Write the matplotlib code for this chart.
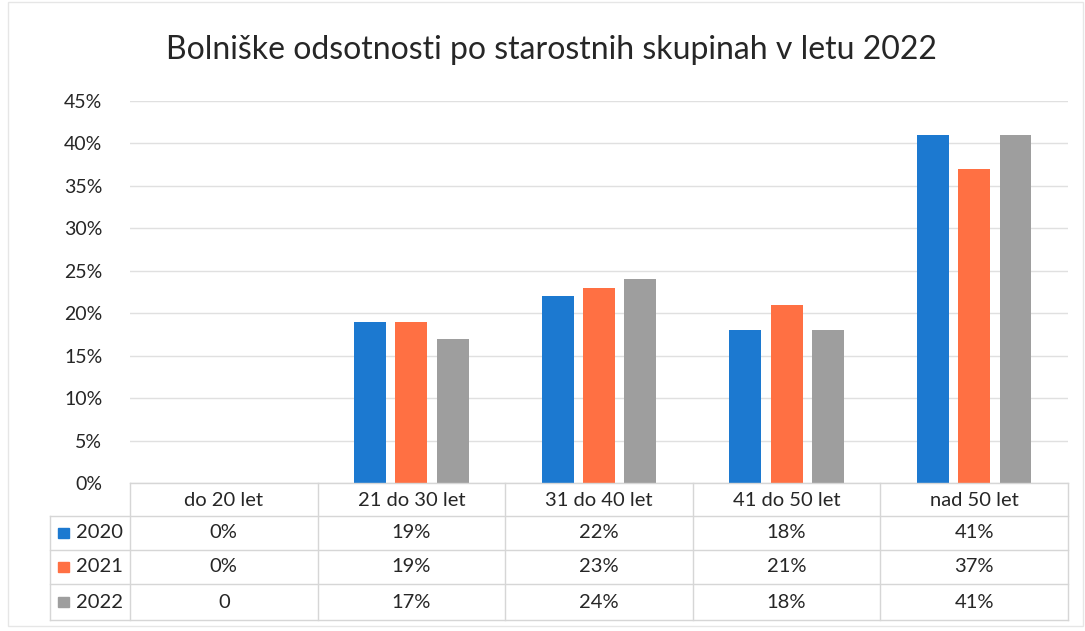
import matplotlib.pyplot as plt
from matplotlib.lines import Line2D
from matplotlib.patches import Rectangle
import numpy as np

# podatki
categories = ['do 20 let', '21 do 30 let', '31 do 40 let', '41 do 50 let', 'nad 50 let']
years = ['2020', '2021', '2022']
v2020 = [0, 19, 22, 18, 41]
v2021 = [0, 19, 23, 21, 37]
v2022 = [0, 17, 24, 18, 41]
yticks = [0, 5, 10, 15, 20, 25, 30, 35, 40, 45]

colors = ['#1C79D0', '#FF7043', '#9E9E9E']
series = [v2020, v2021, v2022]
txt_c = '#262626'

plt.rcParams['font.family'] = ['Lato', 'DejaVu Sans']
W, H = 1085, 631
fig = plt.figure(figsize=(W / 100, H / 100), dpi=100)

def fx(x):
    return x / W

def fy(y):
    return 1 - y / H

ax_left, ax_right, ax_top, ax_bot = 130, 1068, 101, 483
ax = fig.add_axes([fx(ax_left), fy(ax_bot), fx(ax_right - ax_left), fy(ax_top) - fy(ax_bot)])

x = np.arange(len(categories))
bw = 0.17
offsets = [-0.22, 0, 0.22]
for vals, off, c in zip(series, offsets, colors):
    ax.bar(x + off, vals, width=bw, color=c, zorder=3)

ax.set_xlim(-0.5, len(categories) - 0.5)
ax.set_ylim(0, 45)
ax.set_yticks(yticks)
ax.set_yticklabels([f'{t}%' for t in yticks], fontsize=14, color=txt_c)
ax.tick_params(axis='y', length=0, pad=20)
ax.set_xticks([])
ax.grid(axis='y', color='#e0e0e0', linewidth=1, zorder=0)
for s in ax.spines.values():
    s.set_visible(False)

fig.text(0.508, fy(50), 'Bolniške odsotnosti po starostnih skupinah v letu 2022',
         ha='center', va='center', fontsize=23, color=txt_c)

# tabela s podatki
line_c = '#d6d6d6'
col_w = (ax_right - ax_left) / len(categories)
col_x = [ax_left + i * col_w for i in range(len(categories) + 1)]
row_y = [483, 516, 550, 584, 620]
lab_left = 50

def hline(y, x0, x1):
    fig.add_artist(Line2D([fx(x0), fx(x1)], [fy(y), fy(y)], color=line_c, lw=1))

def vline(x0, y0, y1):
    fig.add_artist(Line2D([fx(x0), fx(x0)], [fy(y0), fy(y1)], color=line_c, lw=1))

hline(row_y[0], ax_left, ax_right)
for y in row_y[1:]:
    hline(y, lab_left, ax_right)
for cx in col_x:
    vline(cx, row_y[0], row_y[-1])
vline(lab_left, row_y[1], row_y[-1])

for i, cat in enumerate(categories):
    cx = (col_x[i] + col_x[i + 1]) / 2
    fig.text(fx(cx), fy((row_y[0] + row_y[1]) / 2 + 1), cat, ha='center', va='center',
             fontsize=14.5, color=txt_c)

for r, (yr, vals, c) in enumerate(zip(years, series, colors)):
    yc = (row_y[r + 1] + row_y[r + 2]) / 2
    fig.add_artist(Rectangle((fx(58), fy(yc + 5)), fx(11), fy(yc - 5) - fy(yc + 5),
                             color=c, transform=fig.transFigure))
    fig.text(fx(76), fy(yc), yr, ha='left', va='center', fontsize=14.5, color=txt_c)
    for i, v in enumerate(vals):
        cx = (col_x[i] + col_x[i + 1]) / 2
        txt = f'{v}%'
        if yr == '2022' and i == 0:
            txt = '0'
        fig.text(fx(cx), fy(yc), txt, ha='center', va='center', fontsize=14.5, color=txt_c)

# okvir grafa
fig.add_artist(Rectangle((fx(8), fy(626)), fx(1075), fy(2) - fy(626), fill=False,
                         edgecolor='#e6e6e6', lw=1, transform=fig.transFigure))

fig.savefig('out.png', dpi=100, facecolor='white')
